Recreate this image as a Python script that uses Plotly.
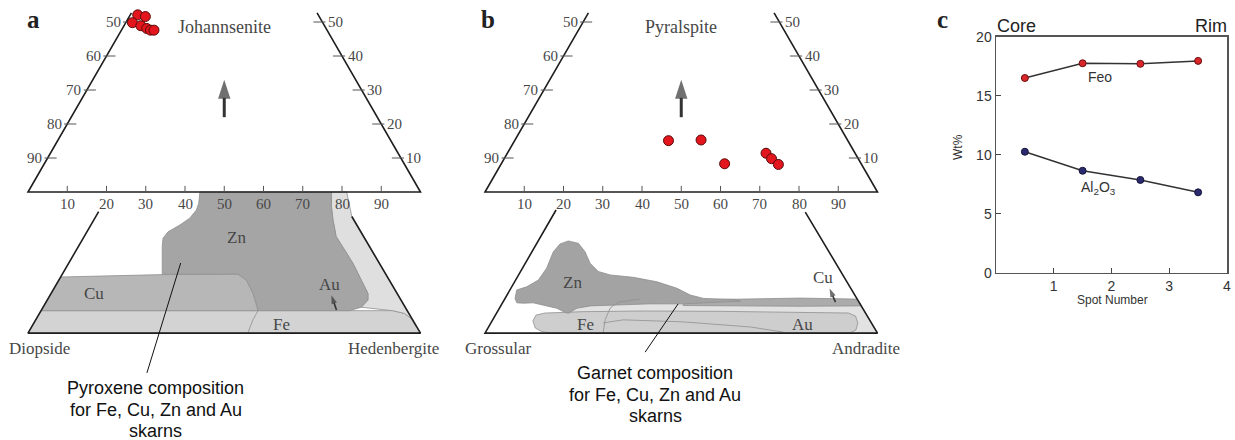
import plotly.graph_objects as go

# ---------------- data ----------------
# Panel a: pyroxene analyses (Johannsenite %, Hedenbergite %)
pyx_jo = [52.1, 51.6, 49.8, 48.9, 48.1, 47.6, 47.6]
pyx_hd = [1.9, 4.1, 1.7, 4.3, 6.2, 7.4, 8.3]
# Panel b: garnet analyses (Pyralspite %, Andradite %)
grt_py = [15.1, 15.3, 8.3, 11.4, 9.8, 8.1]
grt_ad = [39.2, 47.4, 56.9, 65.9, 68.1, 70.7]

base_ticks = [10, 20, 30, 40, 50, 60, 70, 80, 90]
left_ticks = [50, 60, 70, 80, 90]
right_ticks = [50, 40, 30, 20, 10]

# Skarn fields in the lower schematic (u: 0-100 along base, v: % height, negative = below)
a_band = [(0, -41.5), (3.3, -34.9), (58.6, -34.9), (92.9, -34.9), (95.9, -35.7), (97.6, -37.2), (98.9, -39.6), (100, -41.5)]
a_au = [(77.3, 0), (81.2, 0), (82.5, -7.2), (98.9, -39.6), (97.6, -37.2), (95.9, -35.7), (92.9, -34.9), (84.9, -33.9),
        (86.6, -31.8), (86.6, -29.8), (84.9, -25.9), (82.8, -21), (80.7, -17.1), (78.5, -13.1), (77.7, -8.2), (77.3, -4.3)]
a_zn = [(43.8, 0), (43.5, -3.3), (42.9, -5.3), (41.2, -7.7), (38.7, -9.7), (35.7, -11.7), (34.4, -13.6), (34.2, -16.1),
        (34.2, -24.2), (53.5, -24.2), (55.6, -25.9), (57.3, -29.8), (58.4, -33.7), (58.6, -34.9), (81.9, -34.9),
        (84.9, -33.9), (86.6, -31.8), (86.6, -29.8), (84.9, -25.9), (82.8, -21), (80.7, -17.1), (78.5, -13.1),
        (77.7, -8.2), (77.3, -4.3), (77.3, 0)]
a_cu = [(8.3, -25), (34.2, -24.3), (53.5, -24.2), (55.6, -25.9), (57.3, -29.8), (58.4, -33.7), (58.6, -34.9), (3.3, -34.9)]
a_fe_edge = [(58.6, -34.9), (57.3, -37.6), (56.0, -41.5)]

b_light = [(18.6, -41.5), (19.0, -37.5), (20.5, -35.0), (24.0, -33.6), (35, -32.8), (55, -32.5), (95.3, -32.4), (100, -41.5)]
b_fe = [(15.3, -35.6), (13.0, -36.2), (12.2, -37.9), (12.8, -40.0), (14.5, -41.1), (16.5, -41.4), (93.0, -41.4),
        (94.5, -40.6), (95.0, -38.5), (94.4, -36.5), (92.6, -35.6), (80, -35.4), (60, -35.1), (40, -35.0), (25, -35.2)]
b_cu = [(50.5, -31.8), (65, -31.5), (80, -31.2), (94.8, -31.5), (95.9, -33.5), (80, -33.6), (65, -33.6), (50.5, -33.4)]
b_zn = [(7.65, -31.3), (8.1, -28.8), (10.6, -27.9), (13.6, -25.9), (15.7, -22.4), (17.4, -17.6), (19.1, -15.3),
        (21.2, -14.4), (23.8, -15.1), (25.5, -17.6), (26.8, -21.0), (28.9, -23.4), (31.9, -24.4), (37.8, -25.1),
        (43.8, -26.4), (48.9, -28.3), (52.3, -30.3), (55.7, -31.3), (63.3, -31.6), (65.1, -32.1), (55.7, -32.6),
        (50.6, -32.9), (42.1, -32.9), (31.9, -33.2), (26.8, -33.5), (23.4, -34.2), (21.2, -35.7), (20.0, -35.2),
        (18.3, -34.2), (15.7, -33.5), (12.3, -32.6), (9.8, -32.7), (8.1, -32.6)]
b_edge1 = [(30.1, -41.5), (30.6, -37.6), (31.9, -34.1), (33.9, -32.4), (39.5, -31.5)]
b_edge2 = [(30.1, -38.5), (35.2, -37.6), (50.5, -38.2), (67.6, -39.7), (76, -41.2)]

# Panel c
spot = [0.5, 1.5, 2.5, 3.5]
feo = [16.5, 17.75, 17.7, 17.95]
al2o3 = [10.25, 8.64, 7.86, 6.81]

# ---------------- geometry ----------------
W, H = 1235, 440
PXU = 3.925   # px per base unit
PXV = 3.4     # px per height unit
V_TOP = 52.7
A_U0, B_U0, V0 = 28, 485, 192

SERIF = "Liberation Serif"
SANS = "Liberation Sans"
GRAY_TXT = "#474747"


def fx(p):
    return p / W


def fy(p):
    return 1 - p / H


def tern(top, right):
    return [r + t / 2 for t, r in zip(top, right)], list(top)


fig = go.Figure()
ann = []


def poly(pts, xa, color, line_color="#8f8f8f", lw=0.8):
    xs = [p[0] for p in pts] + [pts[0][0]]
    ys = [p[1] for p in pts] + [pts[0][1]]
    fig.add_trace(go.Scatter(x=xs, y=ys, xaxis=xa, yaxis="y", mode="lines", fill="toself",
                             fillcolor=color, line=dict(color=line_color, width=lw),
                             hoverinfo="skip", showlegend=False))


def polyline(pts, xa, color="#8f8f8f", lw=0.8):
    fig.add_trace(go.Scatter(x=[p[0] for p in pts], y=[p[1] for p in pts], xaxis=xa, yaxis="y",
                             mode="lines", line=dict(color=color, width=lw), hoverinfo="skip",
                             showlegend=False))


def arrow(tail, head, xa, width, headsize):
    fig.add_trace(go.Scatter(x=[tail[0], head[0]], y=[tail[1], head[1]], xaxis=xa, yaxis="y",
                             mode="lines+markers", line=dict(color="#333333", width=width),
                             marker=dict(symbol=["circle", "arrow"], size=[0, headsize], angleref="previous",
                                         color="#333333", line=dict(width=0)),
                             hoverinfo="skip", showlegend=False))


def txt(xref, x, y, s, size, xanchor="center", yanchor="middle", font=SERIF, color=GRAY_TXT):
    ann.append(dict(xref=xref, yref="y", x=x, y=y, text=s, showarrow=False, xanchor=xanchor,
                    yanchor=yanchor, font=dict(family=font, size=size, color=color)))


def ternary_frame(xa, title, trap_left, trap_right, corner_l, corner_r, corner_lu, corner_ru,
                  callout, callout_y, callout_x, callout_line):
    polyline([(V_TOP / 2, V_TOP), (0, 0), (100, 0), (100 - V_TOP / 2, V_TOP)], xa, "#1e1e1e", 1.6)
    tx, ty = [], []
    for t in base_ticks:
        tx += [t, t, None]; ty += [0, 1.8, None]
        txt(xa, t, -3.4, str(t), 15)
    for L in left_ticks:
        v = 100 - L; ul = v / 2
        tx += [ul - 0.8, ul + 2.3, None]; ty += [v, v, None]
        txt(xa, ul - 0.9, v, str(L), 15, xanchor="right")
    for R in right_ticks:
        v = R; ur = 100 - v / 2
        tx += [ur - 2.3, ur + 0.8, None]; ty += [v, v, None]
        txt(xa, ur + 0.9, v, str(R), 15, xanchor="left")
    fig.add_trace(go.Scatter(x=tx, y=ty, xaxis=xa, yaxis="y", mode="lines",
                             line=dict(color="#555555", width=1), hoverinfo="skip", showlegend=False))
    polyline([trap_left, (0, -41.5), (100, -41.5), trap_right], xa, "#1e1e1e", 1.6)
    txt(xa, 50, 48.5, title, 18)
    arrow((50, 22), (50, 33.0), xa, 3, 20)
    txt(xa, corner_lu, -46.1, corner_l, 17)
    txt(xa, corner_ru, -46.1, corner_r, 17)
    for line, y in zip(callout, callout_y):
        txt(xa, callout_x, y, line, 18, font=SANS, color="#111111")
    polyline(callout_line, xa, "#111111", 1)


# ---------------- panel a ----------------
poly(a_band, "x", "#d3d3d3")
poly(a_au, "x", "#dfdfdf")
poly(a_zn, "x", "#a5a5a5")
poly(a_cu, "x", "#b7b7b7")
polyline(a_fe_edge, "x")
ternary_frame("x", "Johannsenite", (18, -5.8), (82.5, -7.2), "Diopside", "Hedenbergite", 3.0, 93.0,
              ["Pyroxene composition", "for Fe, Cu, Zn and Au", "skarns"], [-57.6, -64.1, -70.4], 32.5,
              [(30.3, -53.2), (38.9, -20.9)])
txt("x", 53.1, -13.3, "Zn", 17)
txt("x", 16.9, -29.8, "Cu", 17)
txt("x", 76.8, -27.1, "Au", 17)
txt("x", 64.5, -39.1, "Fe", 17)
arrow((78.6, -34.7), (77.3, -30.4), "x", 1.6, 9)
ax_, ay_ = tern(pyx_jo, pyx_hd)
fig.add_trace(go.Scatter(x=ax_, y=ay_, xaxis="x", yaxis="y", mode="markers",
                         marker=dict(size=10, color="#e3161d", line=dict(color="#5a0a0a", width=1)),
                         showlegend=False))

# ---------------- panel b ----------------
poly(b_light, "x2", "#e2e2e2")
poly(b_fe, "x2", "#cecece")
poly(b_cu, "x2", "#ababab")
poly(b_zn, "x2", "#a3a3a3")
polyline(b_edge1, "x2")
polyline(b_edge2, "x2")
ternary_frame("x2", "Pyralspite", (18.1, -5.3), (81.6, -5.9), "Grossular", "Andradite", 3.3, 97.0,
              ["Garnet composition", "for Fe, Cu, Zn and Au", "skarns"], [-53.2, -59.7, -65.9], 43.4,
              [(40.8, -47.1), (49.2, -32.9)])
txt("x2", 22.4, -26.5, "Zn", 17)
txt("x2", 86.2, -25.0, "Cu", 17)
txt("x2", 80.8, -39.1, "Au", 17)
txt("x2", 25.5, -39.1, "Fe", 17)
arrow((89.3, -32.4), (87.8, -28.4), "x2", 1.6, 9)
bx_, by_ = tern(grt_py, grt_ad)
fig.add_trace(go.Scatter(x=bx_, y=by_, xaxis="x2", yaxis="y", mode="markers",
                         marker=dict(size=10, color="#e3161d", line=dict(color="#5a0a0a", width=1)),
                         showlegend=False))

# ---------------- panel c ----------------
fig.add_trace(go.Scatter(x=spot, y=feo, xaxis="x3", yaxis="y3", mode="lines+markers",
                         line=dict(color="#333333", width=1.5),
                         marker=dict(size=7, color="#d8262b", line=dict(color="#6a1010", width=1)),
                         showlegend=False))
fig.add_trace(go.Scatter(x=spot, y=al2o3, xaxis="x3", yaxis="y3", mode="lines+markers",
                         line=dict(color="#333333", width=1.5),
                         marker=dict(size=7, color="#2b2a6e", line=dict(color="#15153a", width=1)),
                         showlegend=False))
for s, x, y in [("Feo", 1.8, 16.6), ("Al<sub>2</sub>O<sub>3</sub>", 1.77, 7.2)]:
    ann.append(dict(xref="x3", yref="y3", x=x, y=y, text=s, showarrow=False,
                    font=dict(family=SANS, size=14, color="#333333")))


def ptxt(x, y, s, size, family, color="#111111", xanchor="center", bold=False, angle=0):
    ann.append(dict(xref="paper", yref="paper", x=fx(x), y=fy(y), text=("<b>%s</b>" % s) if bold else s,
                    showarrow=False, xanchor=xanchor, yanchor="middle", textangle=angle,
                    font=dict(family=family, size=size, color=color)))


ptxt(33, 20, "a", 25, SERIF, "#222222", bold=True)
ptxt(488, 20, "b", 25, SERIF, "#222222", bold=True)
ptxt(942, 19, "c", 25, SERIF, "#222222", bold=True)
ptxt(1016, 26, "Core", 18, SANS, "#222222")
ptxt(1229, 26, "Rim", 18, SANS, "#222222", xanchor="right")
ptxt(958, 147, "Wt%", 12, SANS, "#333333", angle=-90)
ptxt(1112, 300, "Spot Number", 12, SANS, "#333333")

hidden = dict(showgrid=False, zeroline=False, showticklabels=False, showline=False, ticks="", fixedrange=True)
fig.update_layout(
    width=W, height=H, autosize=False, margin=dict(l=0, r=0, t=0, b=0, pad=0, autoexpand=False),
    paper_bgcolor="white", plot_bgcolor="rgba(0,0,0,0)", showlegend=False,
    xaxis=dict(domain=[0, fx(460)], range=[(0 - A_U0) / PXU, (460 - A_U0) / PXU], **hidden),
    xaxis2=dict(domain=[fx(460), fx(920)], range=[(460 - B_U0) / PXU, (920 - B_U0) / PXU], anchor="y", **hidden),
    yaxis=dict(domain=[0, 1], range=[(V0 - H) / PXV, V0 / PXV], **hidden),
    xaxis3=dict(domain=[fx(996), fx(1227)], range=[0, 4], anchor="y3", tickvals=[1, 2, 3, 4],
                ticks="inside", ticklen=5, tickcolor="#444444", showline=True, mirror=True,
                linecolor="#555555", linewidth=1.5, showgrid=False, zeroline=False, automargin=False,
                tickfont=dict(family=SANS, size=14, color="#333333")),
    yaxis3=dict(domain=[fy(272.7), fy(36.7)], range=[0, 20], anchor="x3", tickvals=[0, 5, 10, 15, 20],
                ticks="inside", ticklen=5, tickcolor="#444444", showline=True, mirror=True,
                linecolor="#555555", linewidth=1.5, showgrid=False, zeroline=False, automargin=False,
                tickfont=dict(family=SANS, size=14, color="#333333")),
    annotations=ann,
)
fig.write_html("out.html", config={"displayModeBar": False, "staticPlot": True},
               post_script="document.body.style.margin='0';document.body.style.padding='0';"
                           "document.documentElement.style.overflow='hidden';"
                           "document.body.style.overflow='hidden';")
